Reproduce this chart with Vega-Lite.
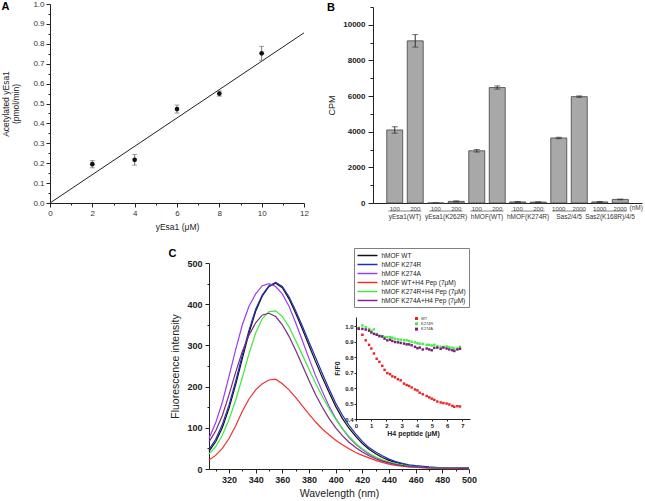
{
"$schema":"https://vega.github.io/schema/vega-lite/v6.json",
"width":645,"height":501,"padding":0,"autosize":{"type":"none"},
"background":"#ffffff",
"config":{"font":"Liberation Sans","view":{"stroke":null},"axis":{"grid":false,"labelFlush":false,"labelOverlap":false,"domainColor":"#222222","tickColor":"#222222","labelColor":"#222222","titleColor":"#222222","titleFontWeight":"normal","domainWidth":1,"tickWidth":1}},
"datasets":{
"a":[{"x":2,"y":0.195,"lo":0.177,"hi":0.213},{"x":4,"y":0.217,"lo":0.19,"hi":0.244},{"x":6,"y":0.472,"lo":0.452,"hi":0.492},{"x":8,"y":0.55,"lo":0.537,"hi":0.563},{"x":10,"y":0.752,"lo":0.717,"hi":0.787}],
"fit":[{"x":0,"y":0},{"x":12,"y":0.855}],
"b":[
{"id":"yEsa1(WT) 100","cpm":4100,"lo":3920,"hi":4280},
{"id":"yEsa1(WT) 200","cpm":9100,"lo":8750,"hi":9450},
{"id":"yEsa1(K262R) 100","cpm":0,"lo":0,"hi":0},
{"id":"yEsa1(K262R) 200","cpm":90,"lo":60,"hi":120},
{"id":"hMOF(WT) 100","cpm":2930,"lo":2860,"hi":3000},
{"id":"hMOF(WT) 200","cpm":6480,"lo":6390,"hi":6570},
{"id":"hMOF(K274R) 100","cpm":60,"lo":40,"hi":80},
{"id":"hMOF(K274R) 200","cpm":50,"lo":35,"hi":65},
{"id":"Sas2/4/5 1000","cpm":3650,"lo":3610,"hi":3690},
{"id":"Sas2/4/5 2000","cpm":5970,"lo":5930,"hi":6010},
{"id":"Sas2(K168R)/4/5 1000","cpm":60,"lo":40,"hi":85},
{"id":"Sas2(K168R)/4/5 2000","cpm":200,"lo":180,"hi":220}],
"bg":[
{"grp":"yEsa1(WT)","first":"yEsa1(WT) 100","second":"yEsa1(WT) 200"},
{"grp":"yEsa1(K262R)","first":"yEsa1(K262R) 100","second":"yEsa1(K262R) 200"},
{"grp":"hMOF(WT)","first":"hMOF(WT) 100","second":"hMOF(WT) 200"},
{"grp":"hMOF(K274R)","first":"hMOF(K274R) 100","second":"hMOF(K274R) 200"},
{"grp":"Sas2/4/5","first":"Sas2/4/5 1000","second":"Sas2/4/5 2000"},
{"grp":"Sas2(K168R)/4/5","first":"Sas2(K168R)/4/5 1000","second":"Sas2(K168R)/4/5 2000"}],
"spec":[
{"w":305,"hMOF WT":43,"hMOF K274R":47,"hMOF K274A":74,"hMOF WT+H4 Pep (7μM)":22,"hMOF K274R+H4 Pep (7μM)":36,"hMOF K274A+H4 Pep (7μM)":66},
{"w":310,"hMOF WT":66,"hMOF K274R":72,"hMOF K274A":112,"hMOF WT+H4 Pep (7μM)":33,"hMOF K274R+H4 Pep (7μM)":54,"hMOF K274A+H4 Pep (7μM)":92},
{"w":315,"hMOF WT":100,"hMOF K274R":108,"hMOF K274A":162,"hMOF WT+H4 Pep (7μM)":50,"hMOF K274R+H4 Pep (7μM)":82,"hMOF K274A+H4 Pep (7μM)":130},
{"w":320,"hMOF WT":147,"hMOF K274R":155,"hMOF K274A":225,"hMOF WT+H4 Pep (7μM)":74,"hMOF K274R+H4 Pep (7μM)":120,"hMOF K274A+H4 Pep (7μM)":180},
{"w":325,"hMOF WT":205,"hMOF K274R":213,"hMOF K274A":290,"hMOF WT+H4 Pep (7μM)":105,"hMOF K274R+H4 Pep (7μM)":167,"hMOF K274A+H4 Pep (7μM)":235},
{"w":330,"hMOF WT":268,"hMOF K274R":277,"hMOF K274A":350,"hMOF WT+H4 Pep (7μM)":140,"hMOF K274R+H4 Pep (7μM)":222,"hMOF K274A+H4 Pep (7μM)":285},
{"w":335,"hMOF WT":330,"hMOF K274R":337,"hMOF K274A":395,"hMOF WT+H4 Pep (7μM)":170,"hMOF K274R+H4 Pep (7μM)":280,"hMOF K274A+H4 Pep (7μM)":325},
{"w":340,"hMOF WT":383,"hMOF K274R":388,"hMOF K274A":425,"hMOF WT+H4 Pep (7μM)":192,"hMOF K274R+H4 Pep (7μM)":330,"hMOF K274A+H4 Pep (7μM)":355},
{"w":345,"hMOF WT":420,"hMOF K274R":423,"hMOF K274A":445,"hMOF WT+H4 Pep (7μM)":207,"hMOF K274R+H4 Pep (7μM)":365,"hMOF K274A+H4 Pep (7μM)":374},
{"w":350,"hMOF WT":443,"hMOF K274R":445,"hMOF K274A":450,"hMOF WT+H4 Pep (7μM)":216,"hMOF K274R+H4 Pep (7μM)":382,"hMOF K274A+H4 Pep (7μM)":378},
{"w":355,"hMOF WT":451,"hMOF K274R":453,"hMOF K274A":443,"hMOF WT+H4 Pep (7μM)":218,"hMOF K274R+H4 Pep (7μM)":384,"hMOF K274A+H4 Pep (7μM)":370},
{"w":360,"hMOF WT":440,"hMOF K274R":443,"hMOF K274A":425,"hMOF WT+H4 Pep (7μM)":207,"hMOF K274R+H4 Pep (7μM)":370,"hMOF K274A+H4 Pep (7μM)":350},
{"w":365,"hMOF WT":413,"hMOF K274R":418,"hMOF K274A":395,"hMOF WT+H4 Pep (7μM)":192,"hMOF K274R+H4 Pep (7μM)":345,"hMOF K274A+H4 Pep (7μM)":322},
{"w":370,"hMOF WT":378,"hMOF K274R":384,"hMOF K274A":355,"hMOF WT+H4 Pep (7μM)":174,"hMOF K274R+H4 Pep (7μM)":312,"hMOF K274A+H4 Pep (7μM)":288},
{"w":375,"hMOF WT":340,"hMOF K274R":347,"hMOF K274A":312,"hMOF WT+H4 Pep (7μM)":153,"hMOF K274R+H4 Pep (7μM)":277,"hMOF K274A+H4 Pep (7μM)":252},
{"w":380,"hMOF WT":300,"hMOF K274R":308,"hMOF K274A":268,"hMOF WT+H4 Pep (7μM)":133,"hMOF K274R+H4 Pep (7μM)":242,"hMOF K274A+H4 Pep (7μM)":215},
{"w":385,"hMOF WT":260,"hMOF K274R":270,"hMOF K274A":226,"hMOF WT+H4 Pep (7μM)":114,"hMOF K274R+H4 Pep (7μM)":208,"hMOF K274A+H4 Pep (7μM)":180},
{"w":390,"hMOF WT":222,"hMOF K274R":232,"hMOF K274A":188,"hMOF WT+H4 Pep (7μM)":97,"hMOF K274R+H4 Pep (7μM)":176,"hMOF K274A+H4 Pep (7μM)":150},
{"w":395,"hMOF WT":186,"hMOF K274R":195,"hMOF K274A":153,"hMOF WT+H4 Pep (7μM)":83,"hMOF K274R+H4 Pep (7μM)":147,"hMOF K274A+H4 Pep (7μM)":123},
{"w":400,"hMOF WT":152,"hMOF K274R":160,"hMOF K274A":123,"hMOF WT+H4 Pep (7μM)":70,"hMOF K274R+H4 Pep (7μM)":121,"hMOF K274A+H4 Pep (7μM)":100},
{"w":405,"hMOF WT":123,"hMOF K274R":131,"hMOF K274A":98,"hMOF WT+H4 Pep (7μM)":59,"hMOF K274R+H4 Pep (7μM)":98,"hMOF K274A+H4 Pep (7μM)":81},
{"w":410,"hMOF WT":99,"hMOF K274R":106,"hMOF K274A":77,"hMOF WT+H4 Pep (7μM)":49,"hMOF K274R+H4 Pep (7μM)":79,"hMOF K274A+H4 Pep (7μM)":65},
{"w":415,"hMOF WT":79,"hMOF K274R":85,"hMOF K274A":60,"hMOF WT+H4 Pep (7μM)":40,"hMOF K274R+H4 Pep (7μM)":62,"hMOF K274A+H4 Pep (7μM)":52},
{"w":420,"hMOF WT":62,"hMOF K274R":67,"hMOF K274A":47,"hMOF WT+H4 Pep (7μM)":33,"hMOF K274R+H4 Pep (7μM)":49,"hMOF K274A+H4 Pep (7μM)":41},
{"w":425,"hMOF WT":48,"hMOF K274R":52,"hMOF K274A":36,"hMOF WT+H4 Pep (7μM)":27,"hMOF K274R+H4 Pep (7μM)":38,"hMOF K274A+H4 Pep (7μM)":32},
{"w":430,"hMOF WT":37,"hMOF K274R":41,"hMOF K274A":28,"hMOF WT+H4 Pep (7μM)":21,"hMOF K274R+H4 Pep (7μM)":29,"hMOF K274A+H4 Pep (7μM)":25},
{"w":435,"hMOF WT":28,"hMOF K274R":32,"hMOF K274A":21,"hMOF WT+H4 Pep (7μM)":16,"hMOF K274R+H4 Pep (7μM)":22,"hMOF K274A+H4 Pep (7μM)":19},
{"w":440,"hMOF WT":21,"hMOF K274R":24,"hMOF K274A":16,"hMOF WT+H4 Pep (7μM)":12,"hMOF K274R+H4 Pep (7μM)":17,"hMOF K274A+H4 Pep (7μM)":15},
{"w":445,"hMOF WT":16,"hMOF K274R":18,"hMOF K274A":12,"hMOF WT+H4 Pep (7μM)":9,"hMOF K274R+H4 Pep (7μM)":13,"hMOF K274A+H4 Pep (7μM)":11},
{"w":450,"hMOF WT":12,"hMOF K274R":14,"hMOF K274A":9,"hMOF WT+H4 Pep (7μM)":7,"hMOF K274R+H4 Pep (7μM)":10,"hMOF K274A+H4 Pep (7μM)":8},
{"w":455,"hMOF WT":9,"hMOF K274R":10,"hMOF K274A":7,"hMOF WT+H4 Pep (7μM)":5,"hMOF K274R+H4 Pep (7μM)":7,"hMOF K274A+H4 Pep (7μM)":6},
{"w":460,"hMOF WT":7,"hMOF K274R":8,"hMOF K274A":5,"hMOF WT+H4 Pep (7μM)":4,"hMOF K274R+H4 Pep (7μM)":5,"hMOF K274A+H4 Pep (7μM)":5},
{"w":470,"hMOF WT":4,"hMOF K274R":5,"hMOF K274A":3,"hMOF WT+H4 Pep (7μM)":2,"hMOF K274R+H4 Pep (7μM)":3,"hMOF K274A+H4 Pep (7μM)":3},
{"w":480,"hMOF WT":3,"hMOF K274R":3,"hMOF K274A":2,"hMOF WT+H4 Pep (7μM)":1,"hMOF K274R+H4 Pep (7μM)":2,"hMOF K274A+H4 Pep (7μM)":2},
{"w":490,"hMOF WT":2,"hMOF K274R":2,"hMOF K274A":2,"hMOF WT+H4 Pep (7μM)":1,"hMOF K274R+H4 Pep (7μM)":2,"hMOF K274A+H4 Pep (7μM)":2},
{"w":500,"hMOF WT":2,"hMOF K274R":2,"hMOF K274A":1,"hMOF WT+H4 Pep (7μM)":1,"hMOF K274R+H4 Pep (7μM)":1,"hMOF K274A+H4 Pep (7μM)":1}],
"inset":[
{"c":0.18,"WT":0.983,"K274R":0.99,"K274A":0.985},
{"c":0.42,"WT":0.945,"K274R":1.005,"K274A":0.983},
{"c":0.64,"WT":0.909,"K274R":0.994,"K274A":0.979},
{"c":0.86,"WT":0.88,"K274R":0.983,"K274A":0.972},
{"c":1.01,"WT":0.856,"K274R":0.97,"K274A":0.96},
{"c":1.18,"WT":0.824,"K274R":0.98,"K274A":0.951},
{"c":1.36,"WT":0.79,"K274R":0.95,"K274A":0.945},
{"c":1.54,"WT":0.77,"K274R":0.94,"K274A":0.936},
{"c":1.73,"WT":0.744,"K274R":0.935,"K274A":0.934},
{"c":1.88,"WT":0.718,"K274R":0.93,"K274A":0.92},
{"c":2.06,"WT":0.697,"K274R":0.93,"K274A":0.909},
{"c":2.24,"WT":0.69,"K274R":0.93,"K274A":0.913},
{"c":2.39,"WT":0.676,"K274R":0.926,"K274A":0.905},
{"c":2.57,"WT":0.67,"K274R":0.92,"K274A":0.898},
{"c":2.76,"WT":0.657,"K274R":0.915,"K274A":0.896},
{"c":2.94,"WT":0.65,"K274R":0.913,"K274A":0.892},
{"c":3.16,"WT":0.629,"K274R":0.91,"K274A":0.888},
{"c":3.33,"WT":0.62,"K274R":0.91,"K274A":0.883},
{"c":3.49,"WT":0.614,"K274R":0.905,"K274A":0.883},
{"c":3.66,"WT":0.604,"K274R":0.9,"K274A":0.877},
{"c":3.88,"WT":0.591,"K274R":0.896,"K274A":0.867},
{"c":4.04,"WT":0.585,"K274R":0.89,"K274A":0.858},
{"c":4.19,"WT":0.57,"K274R":0.887,"K274A":0.862},
{"c":4.39,"WT":0.56,"K274R":0.886,"K274A":0.85},
{"c":4.65,"WT":0.549,"K274R":0.88,"K274A":0.856},
{"c":4.82,"WT":0.54,"K274R":0.88,"K274A":0.85},
{"c":4.98,"WT":0.532,"K274R":0.875,"K274A":0.845},
{"c":5.15,"WT":0.524,"K274R":0.88,"K274A":0.86},
{"c":5.35,"WT":0.513,"K274R":0.87,"K274A":0.862},
{"c":5.57,"WT":0.507,"K274R":0.867,"K274A":0.854},
{"c":5.75,"WT":0.503,"K274R":0.867,"K274A":0.862},
{"c":5.96,"WT":0.5,"K274R":0.87,"K274A":0.856},
{"c":6.14,"WT":0.494,"K274R":0.864,"K274A":0.85},
{"c":6.34,"WT":0.485,"K274R":0.862,"K274A":0.845},
{"c":6.47,"WT":0.479,"K274R":0.856,"K274A":0.84},
{"c":6.67,"WT":0.483,"K274R":0.856,"K274A":0.85},
{"c":6.84,"WT":0.481,"K274R":0.867,"K274A":0.854}]
},
"resolve":{"scale":{"x":"independent","y":"independent","color":"independent"},"axis":{"x":"independent","y":"independent"},"legend":{"color":"independent"}},
"layer":[
{"layer":[
 {"data":{"name":"fit"},"mark":{"type":"line","color":"#222222","strokeWidth":1},
  "encoding":{
   "x":{"field":"x","type":"quantitative","scale":{"domain":[0,12],"range":[50,304],"nice":false,"zero":false},"axis":{"orient":"bottom","offset":-298,"values":[0,2,4,6,8,10,12],"format":"d","title":"yEsa1 (μM)","labelFontSize":8,"titleFontSize":8.5,"tickSize":4,"labelPadding":2,"titlePadding":5,"labelColor":"#333333"}},
   "y":{"field":"y","type":"quantitative","scale":{"domain":[0,1],"range":[203,4],"nice":false,"zero":false},"axis":{"orient":"left","offset":-50,"values":[0,0.1,0.2,0.3,0.4,0.5,0.6,0.7,0.8,0.9,1],"format":".1f","title":["Acetylated yEsa1","(pmol/min)"],"labelFontSize":8,"titleFontSize":8.5,"tickSize":4,"labelPadding":2,"titlePadding":12,"labelColor":"#333333"}}}},
 {"data":{"name":"a"},"mark":{"type":"rule","color":"#777777","strokeWidth":1},
  "encoding":{"x":{"field":"x","type":"quantitative"},"y":{"field":"lo","type":"quantitative"},"y2":{"field":"hi"}}},
 {"data":{"name":"a"},"mark":{"type":"tick","orient":"horizontal","size":5,"thickness":1,"color":"#777777"},
  "encoding":{"x":{"field":"x","type":"quantitative"},"y":{"field":"lo","type":"quantitative"}}},
 {"data":{"name":"a"},"mark":{"type":"tick","orient":"horizontal","size":5,"thickness":1,"color":"#777777"},
  "encoding":{"x":{"field":"x","type":"quantitative"},"y":{"field":"hi","type":"quantitative"}}},
 {"data":{"name":"a"},"mark":{"type":"point","filled":true,"color":"#111111","size":22,"opacity":1},
  "encoding":{"x":{"field":"x","type":"quantitative"},"y":{"field":"y","type":"quantitative"}}},
 {"data":{"values":[{}]},"mark":{"type":"text","text":"A","fontWeight":"bold","fontSize":11,"color":"#000000"},
  "encoding":{"x":{"datum":-2.1,"type":"quantitative"},"y":{"datum":0.985,"type":"quantitative"}}},
 {"data":{"values":[{}]},"mark":{"type":"text","text":"B","fontWeight":"bold","fontSize":11,"color":"#000000"},
  "encoding":{"x":{"datum":13.28,"type":"quantitative"},"y":{"datum":0.98,"type":"quantitative"}}}
]},
{"data":{"values":[{}]},"mark":{"type":"point","opacity":0},
 "encoding":{
  "x":{"datum":1,"type":"quantitative","scale":{"domain":[0,12],"range":[50,304],"nice":false,"zero":false},"axis":{"orient":"bottom","offset":-298,"values":[1,3,5,7,9,11],"labels":false,"domain":false,"title":null,"tickSize":2}},
  "y":{"datum":0.05,"type":"quantitative","scale":{"domain":[0,1],"range":[203,4],"nice":false,"zero":false},"axis":{"orient":"left","offset":-50,"values":[0.05,0.15,0.25,0.35,0.45,0.55,0.65,0.75,0.85,0.95],"labels":false,"domain":false,"title":null,"tickSize":2}}}},
{"layer":[
 {"data":{"name":"b"},"mark":{"type":"bar","color":"#a8a8a8","stroke":"#444444","strokeWidth":0.8},
  "encoding":{
   "x":{"field":"id","type":"nominal","sort":null,"scale":{"type":"band","range":[373,642],"paddingInner":0.22,"paddingOuter":0.67},"axis":{"orient":"bottom","offset":-298,"title":null,"labelAngle":0,"tickSize":0,"labelPadding":2,"labelFontSize":6,"labelColor":"#444444","labelExpr":"split(datum.label, ' ')[1]"}},
   "y":{"field":"cpm","type":"quantitative","scale":{"domain":[0,11000],"range":[203,7],"nice":false,"zero":false},"axis":{"orient":"left","offset":-373,"values":[0,2000,4000,6000,8000,10000],"format":"d","title":"CPM","labelFontSize":8,"labelFontWeight":"bold","titleFontSize":9,"tickSize":5,"labelPadding":3,"titlePadding":6}}}},
 {"data":{"name":"b"},"mark":{"type":"rule","color":"#333333","strokeWidth":1},
  "encoding":{"x":{"field":"id","type":"nominal","sort":null},"y":{"field":"lo","type":"quantitative"},"y2":{"field":"hi"}}},
 {"data":{"name":"b"},"mark":{"type":"tick","orient":"horizontal","size":6,"thickness":1,"color":"#333333"},
  "encoding":{"x":{"field":"id","type":"nominal","sort":null},"y":{"field":"lo","type":"quantitative"}}},
 {"data":{"name":"b"},"mark":{"type":"tick","orient":"horizontal","size":6,"thickness":1,"color":"#333333"},
  "encoding":{"x":{"field":"id","type":"nominal","sort":null},"y":{"field":"hi","type":"quantitative"}}},
 {"data":{"name":"bg"},"mark":{"type":"rule","color":"#666666","strokeWidth":0.8},
  "encoding":{
   "x":{"field":"first","type":"nominal","sort":null,"bandPosition":0.1},
   "x2":{"field":"second","bandPosition":0.9},
   "y":{"datum":-450,"type":"quantitative"}}},
 {"data":{"name":"bg"},"mark":{"type":"text","fontSize":6.5,"color":"#333333","dx":10.3},
  "encoding":{
   "x":{"field":"first","type":"nominal","sort":null},
   "y":{"datum":-785,"type":"quantitative"},
   "text":{"field":"grp"}}},
 {"data":{"values":[{}]},"mark":{"type":"text","text":"(nM)","fontSize":6.5,"color":"#444444","dx":16},
  "encoding":{
   "x":{"datum":"Sas2(K168R)/4/5 2000","type":"nominal"},
   "y":{"datum":-300,"type":"quantitative"}}}
]},
{"data":{"values":[{}]},"mark":{"type":"point","opacity":0},
 "encoding":{
  "x":{"datum":0,"type":"quantitative","scale":{"domain":[0,12],"range":[373,642],"nice":false,"zero":false},"axis":null},
  "y":{"datum":1000,"type":"quantitative","scale":{"domain":[0,11000],"range":[203,7],"nice":false,"zero":false},"axis":{"orient":"left","offset":-373,"values":[1000,3000,5000,7000,9000,11000],"labels":false,"domain":false,"title":null,"tickSize":3}}}},
{"layer":[
 {"data":{"name":"spec"},"transform":[{"fold":["hMOF WT","hMOF K274R","hMOF K274A","hMOF WT+H4 Pep (7μM)","hMOF K274R+H4 Pep (7μM)","hMOF K274A+H4 Pep (7μM)"],"as":["s","f"]}],
  "mark":{"type":"line","strokeWidth":1.2},
  "encoding":{
   "x":{"field":"w","type":"quantitative","scale":{"domain":[305,500],"range":[209,469],"nice":false,"zero":false},"axis":{"orient":"bottom","offset":-32,"values":[320,340,360,380,400,420,440,460,480,500],"title":"Wavelength (nm)","labelFontSize":9,"labelFontWeight":"bold","titleFontSize":10.5,"tickSize":4,"labelPadding":2,"titlePadding":4}},
   "y":{"field":"f","type":"quantitative","scale":{"domain":[0,500],"range":[469,263],"nice":false,"zero":false},"axis":{"orient":"left","offset":-209,"values":[0,100,200,300,400,500],"title":"Fluorescence intensity","labelFontSize":9,"labelFontWeight":"bold","titleFontSize":10.5,"tickSize":4,"labelPadding":3,"titlePadding":6}},
   "color":{"field":"s","type":"nominal","scale":{"domain":["hMOF WT","hMOF K274R","hMOF K274A","hMOF WT+H4 Pep (7μM)","hMOF K274R+H4 Pep (7μM)","hMOF K274A+H4 Pep (7μM)"],"range":["#111111","#1f2fb5","#9b3df0","#f03030","#3ee83e","#7d2a80"]},
     "legend":{"orient":"none","legendX":354,"legendY":248,"title":null,"labelFontSize":6.5,"symbolType":"M-2.5,0L2.5,0","symbolSize":64,"symbolStrokeWidth":1.5,"symbolOffset":6,"strokeColor":"#808080","padding":2.5,"rowPadding":0,"labelOffset":9,"fillColor":"#ffffff","labelLimit":300,"labelColor":"#222222"}}}},
 {"data":{"values":[{}]},"mark":{"type":"text","text":"C","fontWeight":"bold","fontSize":11,"color":"#000000"},
  "encoding":{"x":{"datum":277.6,"type":"quantitative"},"y":{"datum":521.8,"type":"quantitative"}}}
]},
{"data":{"values":[{}]},"mark":{"type":"point","opacity":0},
 "encoding":{
  "x":{"datum":310,"type":"quantitative","scale":{"domain":[305,500],"range":[209,469],"nice":false,"zero":false},"axis":{"orient":"bottom","offset":-32,"values":[310,330,350,370,390,410,430,450,470,490],"labels":false,"domain":false,"title":null,"tickSize":2}},
  "y":{"datum":50,"type":"quantitative","scale":{"domain":[0,500],"range":[469,263],"nice":false,"zero":false},"axis":{"orient":"left","offset":-209,"values":[50,150,250,350,450],"labels":false,"domain":false,"title":null,"tickSize":2}}}},
{"layer":[
 {"data":{"name":"inset"},"transform":[{"fold":["WT","K274R","K274A"],"as":["s","r"]}],
  "mark":{"type":"square","filled":true,"size":6,"opacity":1},
  "encoding":{
   "x":{"field":"c","type":"quantitative","scale":{"domain":[0,7.5],"range":[356,470],"nice":false,"zero":false},"axis":{"orient":"bottom","offset":-82,"values":[0,1,2,3,4,5,6,7],"title":"H4 peptide (μM)","labelFontSize":6,"labelFontWeight":"bold","titleFontSize":7,"titleFontWeight":"bold","tickSize":2,"labelPadding":1,"titlePadding":1}},
   "y":{"field":"r","type":"quantitative","scale":{"domain":[0.4,1.06],"range":[419,317],"nice":false,"zero":false},"axis":{"orient":"left","offset":-356,"values":[0.4,0.5,0.6,0.7,0.8,0.9,1.0],"format":".1f","title":"F/F0","labelFontSize":6,"labelFontWeight":"bold","titleFontSize":7,"titleFontWeight":"bold","tickSize":2,"labelPadding":1,"titlePadding":4}},
   "color":{"field":"s","type":"nominal","scale":{"domain":["WT","K274R","K274A"],"range":["#ee2020","#44ee44","#7b1c7b"]},
     "legend":{"orient":"none","legendX":414,"legendY":316,"title":null,"labelFontSize":4,"symbolType":"square","symbolSize":9,"rowPadding":0.3,"padding":0,"labelOffset":2,"labelColor":"#333333"}}}}
]}
]
}
